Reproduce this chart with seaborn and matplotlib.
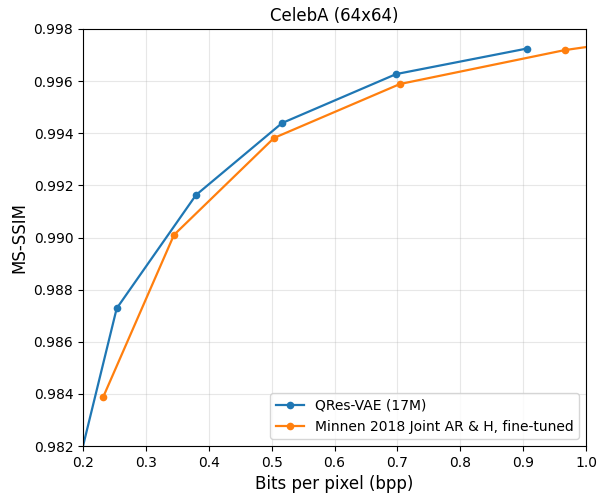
import matplotlib
matplotlib.use("Agg")
import matplotlib.pyplot as plt
import seaborn as sns
import pandas as pd

qres_bpp = [0.19, 0.2536, 0.3797, 0.5165, 0.698, 0.906]
qres_msssim = [0.98101, 0.98728, 0.99163, 0.99439, 0.99627, 0.99725]
minnen_bpp = [0.2323, 0.3447, 0.5038, 0.7042, 0.9661, 1.1]
minnen_msssim = [0.98389, 0.99010, 0.99382, 0.99589, 0.99719, 0.99765]

labels = ["QRes-VAE (17M)", "Minnen 2018 Joint AR & H, fine-tuned"]

df = pd.concat([
    pd.DataFrame({"bpp": qres_bpp, "msssim": qres_msssim, "method": labels[0]}),
    pd.DataFrame({"bpp": minnen_bpp, "msssim": minnen_msssim, "method": labels[1]}),
])

fig = plt.figure(figsize=(6.01, 5.0), dpi=100)
ax = fig.add_axes([83/601, 1-446/500, (586-83)/601, (446-29)/500])
sns.lineplot(data=df, x="bpp", y="msssim", hue="method", marker="o",
             markersize=5.5, markeredgewidth=0, linewidth=1.6, sort=False,
             palette=["#1f77b4", "#ff7f0e"], ax=ax)
ax.set_xlim(0.2, 1.0)
ax.set_ylim(0.982, 0.998)
ax.set_xticks([0.2, 0.3, 0.4, 0.5, 0.6, 0.7, 0.8, 0.9, 1.0])
ax.set_yticks([0.982, 0.984, 0.986, 0.988, 0.990, 0.992, 0.994, 0.996, 0.998])
ax.set_yticklabels([f"{v:.3f}" for v in ax.get_yticks()])
ax.set_xticklabels([f"{v:.1f}" for v in ax.get_xticks()])
ax.grid(True, alpha=0.3)
ax.set_xlabel("Bits per pixel (bpp)", fontsize=12)
ax.set_ylabel("MS-SSIM", fontsize=12)
ax.set_title("CelebA (64x64)", fontsize=12)
ax.legend(title=None, loc="lower right", fontsize=10)
fig.savefig("out.png", dpi=100)
